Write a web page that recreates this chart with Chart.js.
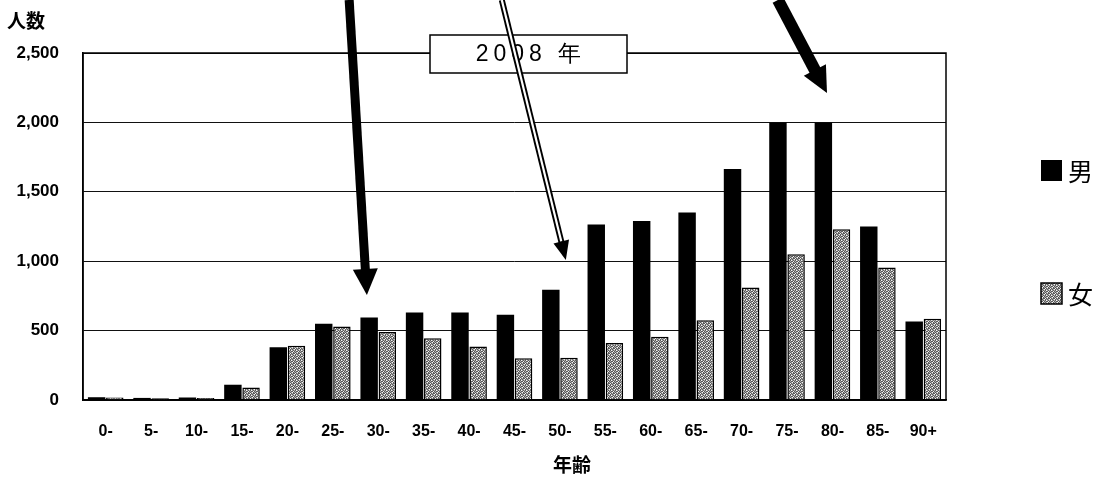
<!DOCTYPE html>
<html>
<head>
<meta charset="utf-8">
<script src="https://cdn.jsdelivr.net/npm/chart.js@4/dist/chart.umd.min.js"></script>
<style>
  body { margin: 0; background: #fff; }
  canvas { display: block; }
</style>
</head>
<body>
<canvas id="grafica" width="1102" height="477"></canvas>
<script>
const categories = ['0-', '5-', '10-', '15-', '20-', '25-', '30-', '35-', '40-', '45-',
  '50-', '55-', '60-', '65-', '70-', '75-', '80-', '85-', '90+'];
const male = [20, 15, 18, 110, 380, 550, 595, 630, 630, 615, 795, 1265, 1290, 1350, 1665, 2000, 2000, 1250, 565];
const female = [18, 12, 15, 90, 390, 530, 490, 445, 385, 300, 305, 410, 455, 575, 810, 1050, 1230, 955, 585];
const yTickValues = [0, 500, 1000, 1500, 2000, 2500];

// flechas dibujadas encima (en coordenadas de datos: índice de categoría, valor)
const arrowTails = [[5.36, 2882], [8.72, 2882], [14.8, 2882]];
const arrowTips = [[5.75, 757], [10.13, 1009], [15.88, 2212]];
const arrowKinds = ['solid', 'double', 'solid'];

const FONT_LAT = '"Liberation Sans", Arial, sans-serif';
const FONT_JP = '"Noto Sans CJK JP", "Liberation Sans", sans-serif';

// trama gris moteada para 女
function makePattern() {
  const rows = [
    'DWGDG',
    'GDDWD',
    'DGWDG',
    'WDGDD',
    'DGDGW'
  ];
  const col = { D: '#5a5a5a', G: '#a8a8a8', W: '#f4f4f4' };
  const c = document.createElement('canvas');
  c.width = 5; c.height = 5;
  const g = c.getContext('2d');
  rows.forEach((r, j) => {
    [...r].forEach((ch, i) => {
      g.fillStyle = col[ch];
      g.fillRect(i, j, 1, 1);
    });
  });
  return g.createPattern(c, 'repeat');
}
const femalePattern = makePattern();

function drawArrow(ctx, x1, y1, x2, y2, kind, shaft) {
  const dx = x2 - x1, dy = y2 - y1;
  const len = Math.hypot(dx, dy);
  const ux = dx / len, uy = dy / len;
  const headL = kind === 'double' ? 19 : 26;
  const headW = kind === 'double' ? 16 : 25;
  const bx = x2 - ux * headL, by = y2 - uy * headL;
  ctx.lineCap = 'butt';
  if (kind === 'double') {
    ctx.strokeStyle = '#000';
    ctx.lineWidth = 6;
    ctx.beginPath(); ctx.moveTo(x1, y1); ctx.lineTo(bx + ux * 2, by + uy * 2); ctx.stroke();
    ctx.strokeStyle = '#fff';
    ctx.lineWidth = 2.2;
    ctx.beginPath(); ctx.moveTo(x1, y1); ctx.lineTo(bx, by); ctx.stroke();
  } else {
    ctx.strokeStyle = '#000';
    ctx.lineWidth = shaft;
    ctx.beginPath(); ctx.moveTo(x1, y1); ctx.lineTo(bx + ux * 3, by + uy * 3); ctx.stroke();
  }
  ctx.fillStyle = '#000';
  ctx.beginPath();
  ctx.moveTo(x2, y2);
  ctx.lineTo(bx - uy * headW / 2, by + ux * headW / 2);
  ctx.lineTo(bx + uy * headW / 2, by - ux * headW / 2);
  ctx.closePath();
  ctx.fill();
}

const extras = {
  id: 'extras',
  afterDraw(chart) {
    const { ctx, chartArea: a, scales: { x, y } } = chart;
    ctx.save();

    // marco del área
    ctx.strokeStyle = '#000';
    ctx.lineWidth = 1.5;
    ctx.strokeRect(a.left, a.top, a.right - a.left, a.bottom - a.top);

    // recuadro del título
    ctx.fillStyle = '#fff';
    ctx.fillRect(430, 35, 197, 38);
    ctx.lineWidth = 1.5;
    ctx.strokeRect(430, 35, 197, 38);
    ctx.fillStyle = '#000';
    ctx.font = '500 23px ' + FONT_LAT;
    ctx.letterSpacing = '5px';
    ctx.textAlign = 'center';
    ctx.textBaseline = 'middle';
    ctx.fillText('2008 年', 531, 55);
    ctx.letterSpacing = '0px';

    // flechas
    arrowTails.forEach((t, i) => {
      const tip = arrowTips[i];
      drawArrow(ctx,
        x.getPixelForValue(t[0]), y.getPixelForValue(t[1]),
        x.getPixelForValue(tip[0]), y.getPixelForValue(tip[1]),
        arrowKinds[i], i === 0 ? 9 : 12);
    });

    // títulos de ejes
    ctx.fillStyle = '#000';
    ctx.font = 'bold 19px ' + FONT_JP;
    ctx.textAlign = 'left';
    ctx.fillText('人数', 7, 21);
    ctx.textAlign = 'center';
    ctx.fillText('年齢', 572, 465);

    // leyenda
    const legendY = [170, 293];
    chart.data.datasets.forEach((ds, i) => {
      const ly = legendY[i];
      ctx.fillStyle = ds.backgroundColor;
      ctx.fillRect(1041, ly - 10, 21, 21);
      if (i === 1) {
        ctx.strokeStyle = '#000';
        ctx.lineWidth = 1.5;
        ctx.strokeRect(1041, ly - 10, 21, 21);
      }
      ctx.fillStyle = '#000';
      ctx.font = '25px ' + FONT_JP;
      ctx.textAlign = 'left';
      ctx.fillText(ds.label, 1068, ly + 1);
    });

    ctx.restore();
  }
};

new Chart(document.getElementById('grafica').getContext('2d'), {
  type: 'bar',
  data: {
    labels: categories,
    datasets: [{
      label: '男',
      data: male,
      backgroundColor: '#000',
      borderWidth: 0,
      categoryPercentage: 0.8,
      barPercentage: 0.96
    }, {
      label: '女',
      data: female,
      backgroundColor: femalePattern,
      borderColor: '#000',
      borderWidth: 1.5,
      categoryPercentage: 0.8,
      barPercentage: 0.96
    }]
  },
  options: {
    responsive: false,
    animation: false,
    layout: { padding: { top: 53, right: 156, left: 0, bottom: 0 } },
    plugins: {
      legend: { display: false },
      tooltip: { enabled: false }
    },
    scales: {
      x: {
        offset: true,
        grid: { display: false, drawTicks: false },
        border: { display: true, color: '#000', width: 1.5 },
        ticks: {
          color: '#000',
          font: { family: FONT_LAT, size: 16, weight: 'bold' },
          padding: 22,
          maxRotation: 0,
          autoSkip: false
        },
        afterFit(s) { s.height = 77; }
      },
      y: {
        min: 0,
        max: 2500,
        afterBuildTicks(s) { s.ticks = yTickValues.map(v => ({ value: v })); },
        grid: { color: '#111', lineWidth: 1, drawTicks: false },
        border: { display: true, color: '#000', width: 1.5 },
        ticks: {
          color: '#000',
          font: { family: FONT_LAT, size: 17, weight: 'bold' },
          padding: 24,
          callback: v => v.toLocaleString('en-US')
        },
        afterFit(s) { s.width = 83; }
      }
    }
  },
  plugins: [extras]
});
</script>
</body>
</html>
